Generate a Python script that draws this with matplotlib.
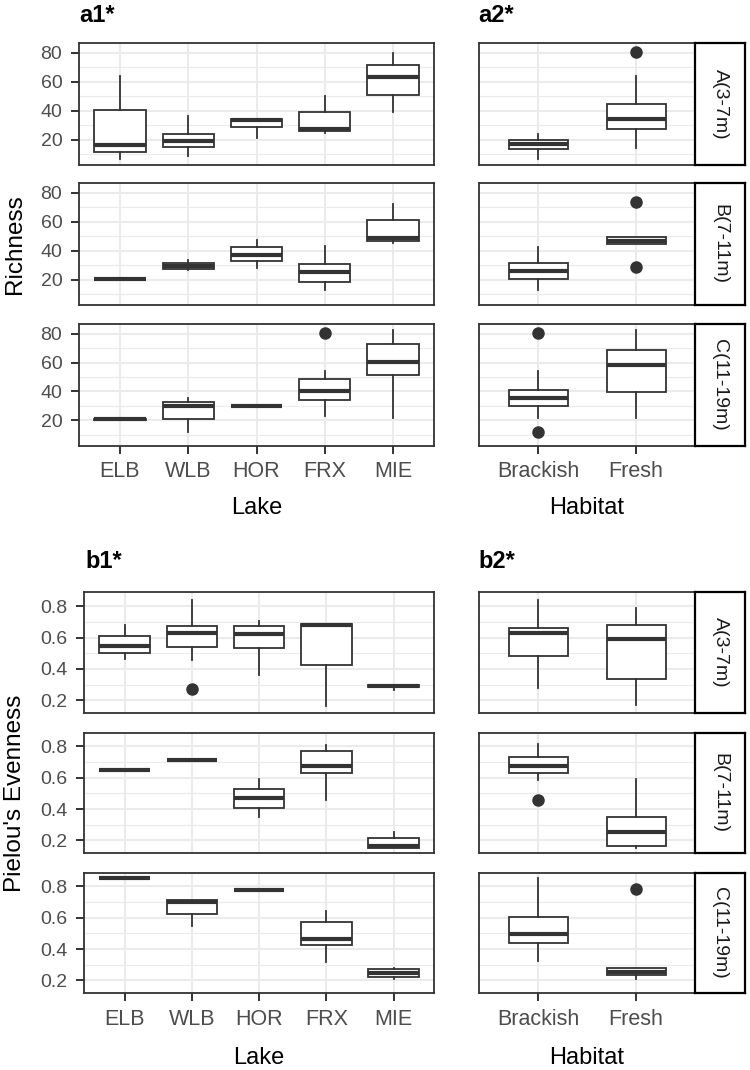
import matplotlib
matplotlib.use("Agg")
import matplotlib.pyplot as plt
from matplotlib.ticker import MultipleLocator

plt.rcParams['font.family'] = ['Liberation Sans', 'DejaVu Sans']

# -------------------------
# categories
# -------------------------
lakes = ['ELB', 'WLB', 'HOR', 'FRX', 'MIE']
habitats = ['Brackish', 'Fresh']
zones = ['A(3-7m)', 'B(7-11m)', 'C(11-19m)']

# -------------------------
# box stats, one row per category: whisker low, Q1, median, Q3, whisker high
# -------------------------
rich_lake_A = [[6.2, 11.5, 16.1, 40.3, 64.3], [8.5, 14.7, 19.3, 23.7, 36.2],
               [21.1, 28.5, 33.5, 34.5, 34.5], [24.3, 25.7, 27.0, 38.9, 50.0],
               [39.2, 50.9, 63.5, 71.9, 80.0]]
rich_lake_B = [[20.3, 20.3, 20.5, 20.7, 20.7], [26.5, 27.5, 29.5, 31.5, 33.2],
               [27.8, 32.5, 37.3, 42.4, 47.2], [12.6, 18.2, 25.3, 31.1, 43.0],
               [45.4, 47.0, 48.5, 61.0, 72.6]]
rich_lake_C = [[20.3, 20.3, 20.5, 20.7, 20.7], [11.9, 20.5, 29.7, 32.9, 35.7],
               [29.5, 29.5, 29.7, 29.9, 29.9], [22.8, 34.3, 40.1, 48.4, 53.9],
               [21.8, 51.2, 60.4, 72.8, 82.8]]
rich_lake_out = {'A': [[], [], [], [], []],
                 'B': [[], [], [], [], []],
                 'C': [[], [], [], [80.3], []]}

rich_hab_A = [[6.2, 13.5, 17.0, 20.0, 23.9], [14.2, 27.6, 34.5, 44.5, 64.3]]
rich_hab_B = [[12.6, 20.5, 25.8, 31.5, 42.6], [44.9, 44.9, 47.0, 49.3, 49.3]]
rich_hab_C = [[21.2, 29.7, 35.2, 41.2, 53.9], [21.8, 39.4, 58.5, 69.0, 82.8]]
rich_hab_out = {'A': [[], [80.5]],
                'B': [[], [73.5, 28.5]],
                'C': [[80.5, 11.9], []]}

even_lake_A = [[0.465, 0.503, 0.546, 0.613, 0.677], [0.457, 0.539, 0.626, 0.673, 0.836],
               [0.361, 0.531, 0.622, 0.673, 0.707], [0.164, 0.423, 0.677, 0.686, 0.686],
               [0.266, 0.283, 0.291, 0.297, 0.297]]
even_lake_B = [[0.652, 0.652, 0.652, 0.652, 0.652], [0.711, 0.711, 0.711, 0.711, 0.711],
               [0.347, 0.408, 0.472, 0.531, 0.592], [0.461, 0.633, 0.673, 0.770, 0.808],
               [0.153, 0.153, 0.164, 0.213, 0.255]]
even_lake_C = [[0.853, 0.853, 0.853, 0.853, 0.853], [0.546, 0.626, 0.700, 0.711, 0.711],
               [0.779, 0.779, 0.779, 0.779, 0.779], [0.319, 0.429, 0.467, 0.573, 0.643],
               [0.211, 0.224, 0.249, 0.270, 0.277]]
even_lake_out = {'A': [[], [0.27], [], [], []],
                 'B': [[], [], [], [], []],
                 'C': [[], [], [], [], []]}

even_hab_A = [[0.276, 0.482, 0.626, 0.662, 0.836], [0.168, 0.334, 0.588, 0.681, 0.785]]
even_hab_B = [[0.588, 0.633, 0.673, 0.732, 0.813], [0.153, 0.164, 0.255, 0.347, 0.592]]
even_hab_C = [[0.323, 0.436, 0.499, 0.605, 0.853], [0.211, 0.232, 0.256, 0.277, 0.277]]
even_hab_out = {'A': [[], []],
                'B': [[0.461], []],
                'C': [[], [0.781]]}

# -------------------------
# style
# -------------------------
W, H = 750, 1070
DARK = '#333333'
GRID = '#EBEBEB'
TICKC = '#4D4D4D'


def rect(x0, y0, x1, y1):
    return [x0 / W, 1 - y1 / H, (x1 - x0) / W, (y1 - y0) / H]


def y_limits(*groups):
    vals = []
    for g in groups:
        for row in g:
            vals += list(row)
    lo, hi = min(vals), max(vals)
    r = hi - lo
    return lo - 0.05 * r, hi + 0.05 * r


def draw_panel(fig, box, names, stats, outs, ylim, major, minor, width,
               bottom=False, left=True, strip=None):
    ax = fig.add_axes(rect(*box))
    bxp = []
    for name, s, o in zip(names, stats, outs):
        bxp.append(dict(label=name, whislo=s[0], q1=s[1], med=s[2], q3=s[3],
                        whishi=s[4], fliers=o))
    pos = list(range(1, len(names) + 1))
    ax.bxp(bxp, positions=pos, widths=width, showcaps=False, patch_artist=True,
           boxprops=dict(facecolor='white', edgecolor=DARK, linewidth=1.3),
           whiskerprops=dict(color=DARK, linewidth=1.3),
           medianprops=dict(color=DARK, linewidth=3.0, solid_capstyle='butt'),
           flierprops=dict(marker='o', markerfacecolor=DARK, markeredgecolor=DARK,
                           markersize=8), zorder=3)
    ax.set_xlim(0.4, len(names) + 0.6)
    ax.set_ylim(*ylim)
    ax.yaxis.set_major_locator(MultipleLocator(major))
    ax.yaxis.set_minor_locator(MultipleLocator(minor))
    ax.set_xticks(pos)
    ax.grid(True, which='major', color=GRID, linewidth=1.5, zorder=0)
    ax.grid(True, which='minor', axis='y', color=GRID, linewidth=0.8, zorder=0)
    ax.set_axisbelow(True)
    for sp in ax.spines.values():
        sp.set_color(DARK)
        sp.set_linewidth(1.3)
    ax.tick_params(which='minor', length=0)
    ax.tick_params(which='major', color=DARK, width=1.4, length=5.5,
                   labelcolor=TICKC)
    if bottom:
        ax.set_xticklabels(names, fontsize=15.5)
        ax.tick_params(axis='x', pad=6)
    else:
        ax.tick_params(axis='x', length=0, labelbottom=False)
    if left:
        ax.tick_params(axis='y', labelsize=14, pad=6.5)
        if major < 1:
            ax.yaxis.set_major_formatter(lambda v, p: f'{v:.1f}')
        else:
            ax.yaxis.set_major_formatter(lambda v, p: f'{v:.0f}')
    else:
        ax.tick_params(axis='y', length=0, labelleft=False)
    if strip:
        x0, y0, x1, y1 = box
        sax = fig.add_axes(rect(x1, y0, x1 + 50, y1))
        sax.set_xticks([])
        sax.set_yticks([])
        sax.set_facecolor('white')
        for sp in sax.spines.values():
            sp.set_color('black')
            sp.set_linewidth(1.6)
        sax.text(0.5, 0.5, strip, rotation=-90, ha='center', va='center',
                 fontsize=14, color='#1A1A1A', transform=sax.transAxes)
    return ax


fig = plt.figure(figsize=(W / 100, H / 100), dpi=100)

rich_lim = y_limits(rich_lake_A, rich_lake_B, rich_lake_C,
                    rich_hab_A, rich_hab_B, rich_hab_C,
                    [sum(v, []) for v in rich_lake_out.values()],
                    [sum(v, []) for v in rich_hab_out.values()])
even_lim = y_limits(even_lake_A, even_lake_B, even_lake_C,
                    even_hab_A, even_hab_B, even_hab_C,
                    [sum(v, []) for v in even_lake_out.values()],
                    [sum(v, []) for v in even_hab_out.values()])

a_rows = [(43.3, 165.0), (183.3, 305.0), (324.3, 445.5)]
b_rows = [(592.3, 713.3), (732.7, 853.3), (872.7, 993.3)]

rich_lake = [rich_lake_A, rich_lake_B, rich_lake_C]
rich_hab = [rich_hab_A, rich_hab_B, rich_hab_C]
even_lake = [even_lake_A, even_lake_B, even_lake_C]
even_hab = [even_hab_A, even_hab_B, even_hab_C]
keys = ['A', 'B', 'C']

for i, (t, b) in enumerate(a_rows):
    k = keys[i]
    draw_panel(fig, (79, t, 434, b), lakes, rich_lake[i], rich_lake_out[k],
               rich_lim, 20, 10, 0.75, bottom=(i == 2))
    draw_panel(fig, (479.3, t, 695, b), habitats, rich_hab[i], rich_hab_out[k],
               rich_lim, 20, 10, 0.6, bottom=(i == 2), left=False, strip=zones[i])

for i, (t, b) in enumerate(b_rows):
    k = keys[i]
    draw_panel(fig, (84.3, t, 434, b), lakes, even_lake[i], even_lake_out[k],
               even_lim, 0.2, 0.1, 0.75, bottom=(i == 2))
    draw_panel(fig, (479.3, t, 695, b), habitats, even_hab[i], even_hab_out[k],
               even_lim, 0.2, 0.1, 0.6, bottom=(i == 2), left=False, strip=zones[i])

# panel tags
for txt, x, y in [('a1*', 79, 15), ('a2*', 478, 15), ('b1*', 85, 562), ('b2*', 478, 562)]:
    fig.text(x / W, 1 - y / H, txt, fontsize=17, fontweight='bold', ha='left', va='center')

# axis titles
fig.text(256.5 / W, 1 - 508 / H, 'Lake', fontsize=17, ha='center', va='center')
fig.text(587 / W, 1 - 508 / H, 'Habitat', fontsize=17, ha='center', va='center')
fig.text(259 / W, 1 - 1058 / H, 'Lake', fontsize=17, ha='center', va='center')
fig.text(587 / W, 1 - 1058 / H, 'Habitat', fontsize=17, ha='center', va='center')
fig.text(15 / W, 1 - 244 / H, 'Richness', fontsize=17.5, rotation=90, ha='center', va='center')
fig.text(15 / W, 1 - 793 / H, "Pielou's Evenness", fontsize=17.5, rotation=90,
         ha='center', va='center')

fig.savefig('out.png', dpi=100, facecolor='white')
